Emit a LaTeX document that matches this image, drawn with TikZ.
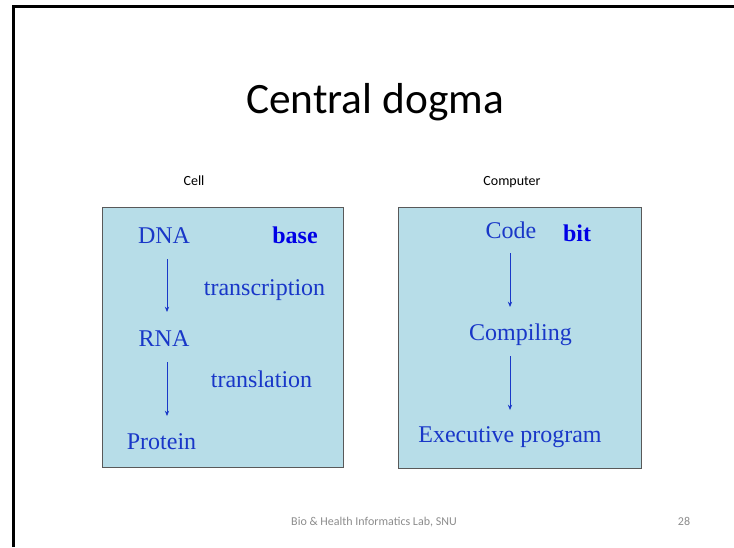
\documentclass[tikz,border=0pt]{standalone}
\usepackage{fontspec}
\setmainfont{Liberation Serif}
\newfontfamily\calibri{Carlito}
\usetikzlibrary{arrows.meta}

\definecolor{boxblue}{RGB}{183,221,232}
\definecolor{txtblue}{RGB}{25,55,200}
\definecolor{boldblue}{RGB}{0,0,230}
\definecolor{footgray}{RGB}{140,140,140}

\tikzset{
  word/.style={anchor=base,inner sep=0pt,text=txtblue,font=\fontsize{18}{20}\selectfont},
  keyword/.style={word,text=boldblue,font=\fontsize{18}{20}\selectfont\bfseries},
  label/.style={anchor=base,inner sep=0pt,font=\calibri\fontsize{10.5}{12}\selectfont},
  foot/.style={anchor=base,inner sep=0pt,text=footgray,font=\calibri\fontsize{9}{10}\selectfont},
  panel/.style={fill=boxblue,draw=black!65,line width=0.7pt},
  flow/.style={draw=txtblue,line width=0.6pt,-{Stealth[length=4pt,width=3.2pt]}}
}

\begin{document}
\begin{tikzpicture}[x=0.75pt,y=-0.75pt]
\useasboundingbox (0,0) rectangle (734,547);

% slide frame
\draw[line width=2.3pt] (13.5,547)--(13.5,6.5)--(734,6.5);

\node[anchor=base,inner sep=0pt,font=\calibri\fontsize{32.5}{36}\selectfont] (title) at (375,113) {Central dogma};

\node[label] (cell) at (194,185) {Cell};
\node[label] (computer) at (512,185) {Computer};

% the two panels
\draw[panel] (102,207) rectangle (343,467);
\draw[panel] (398,207) rectangle (641,468);

% cell side
\node[word] (dna) at (164,243.5) {DNA};
\node[keyword] (base) at (295,243) {base};
\node[word] (transcription) at (264.5,295) {transcription};
\node[word] (rna) at (164,346.5) {RNA};
\node[word] (translation) at (261.5,387) {translation};
\node[word] (protein) at (161.5,449) {Protein};

\draw[flow] ([shift={(3,15.5)}]dna.base) -- ([shift={(3,-34.5)}]rna.base);
\draw[flow] ([shift={(3,15.5)}]rna.base) -- ([shift={(5.5,-33)}]protein.base);

% computer side
\node[word] (code) at (511,238) {Code};
\node[keyword] (bit) at (577,241) {bit};
\node[word] (compiling) at (520.5,340) {Compiling};
\node[word] (program) at (510,442) {Executive program};

\draw[flow] ([shift={(-1,15)}]code.base) -- ([shift={(-10.5,-33)}]compiling.base);
\draw[flow] ([shift={(-10.5,16)}]compiling.base) -- ([shift={(0,-32)}]program.base);

% footer
\node[foot] (footer) at (374,525) {Bio \& Health Informatics Lab, SNU};
\node[foot] (page) at (684,525) {28};

\end{tikzpicture}
\end{document}
